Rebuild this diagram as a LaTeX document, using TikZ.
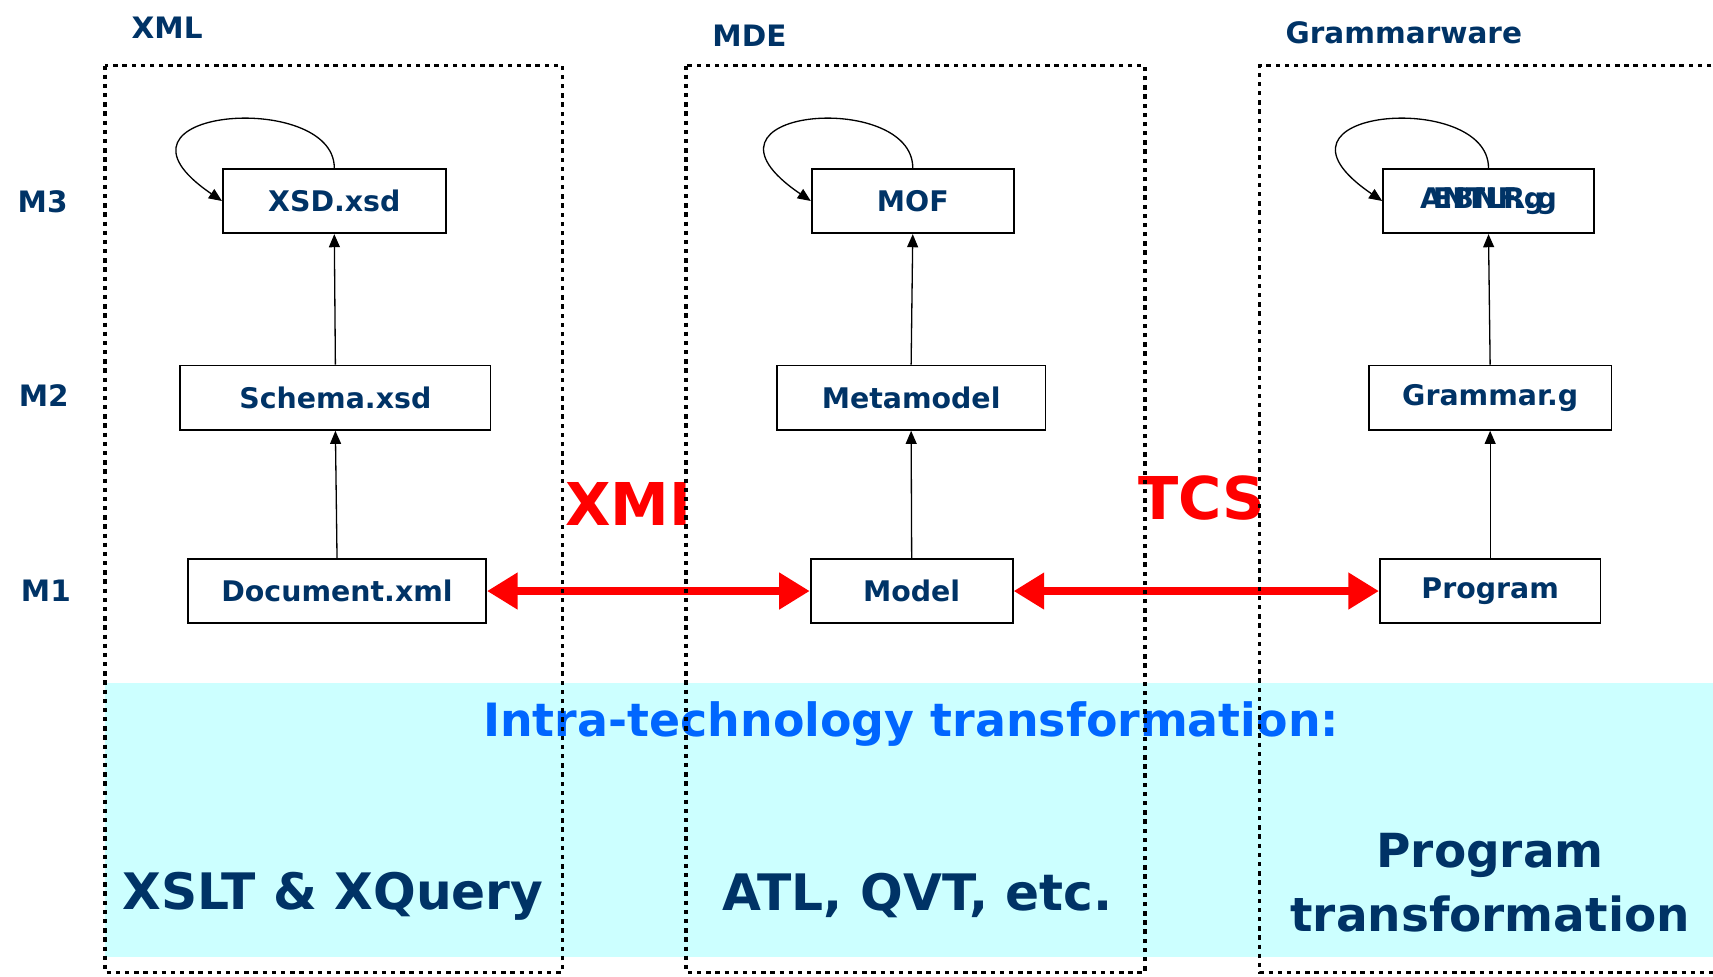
\documentclass[tikz,border=0pt]{standalone}
\usepackage{fontspec}
\setmainfont{DejaVu Sans}
\usetikzlibrary{arrows.meta}
\definecolor{navy}{HTML}{003366}
\definecolor{bandcyan}{HTML}{CCFFFF}
\definecolor{intrablue}{HTML}{0066FF}
\definecolor{linkred}{HTML}{FF0000}

\tikzset{
  techframe/.style={line width=1.6pt, dash pattern=on 2pt off 2.2pt},
  level/.style={draw, line width=0.8pt, minimum height=29.5pt, inner sep=0pt,
    font=\fontsize{13}{15}\selectfont\bfseries, text=navy},
  tag/.style={font=\fontsize{13.5}{15}\selectfont\bfseries, text=navy},
  conform/.style={-{Triangle[length=6pt,width=5pt]}, line width=0.6pt},
  bridge/.style={{Triangle[length=14pt,width=16pt]}-{Triangle[length=14pt,width=16pt]},
    draw=linkred, line width=4pt},
  bridgelabel/.style={font=\fontsize{27}{30}\selectfont\bfseries, text=linkred},
  bigtext/.style={font=\fontsize{23}{29}\selectfont\bfseries, text=navy, align=center}
}

\begin{document}
\begin{tikzpicture}[x=0.5pt,y=-0.5pt]
\useasboundingbox (0,0) rectangle (1568,894);

% shared band for the intra-technology tools
\fill[bandcyan] (96,625) rectangle (1568,876);

\node[tag] (xmltag) at (153,25) {XML};
\node[tag] (mdetag) at (686,33) {MDE};
\node[tag] (gwtag) at (1285,30) {Grammarware};

% metalevels
\node[tag] (m3) at (39,185) {M3};
\node[tag] (m2) at (40,362) {M2};
\node[tag] (m1) at (42,541) {M1};

% XML column
\node[level, minimum width=102pt] (xsd) at (306,184) {XSD.xsd};
\node[level, minimum width=142pt] (schema) at (307,364) {Schema.xsd};
\node[level, minimum width=136.5pt] (doc) at (308.5,541) {Document.xml};

% MDE column
\node[level, minimum width=92.5pt] (mof) at (835.5,184) {MOF};
\node[level, minimum width=123pt] (meta) at (834,364) {Metamodel};
\node[level, minimum width=92.5pt] (model) at (834.5,541) {Model};

% Grammarware column: two grammar notations set on the same box
\node[level, minimum width=96.5pt] (ebnf) at (1362.5,184) {ANTLR.g};
\node[level, draw=none, minimum width=96.5pt] (antlr) at (1362.5,184) {EBNF.g};
\node[level, minimum width=111pt] (grammar) at (1364,364) {Grammar.g};
\node[level, minimum width=101pt] (program) at (1364,541) {Program};

% conformsTo relations
\draw[conform] (doc.north) -- (schema.south);
\draw[conform] (schema.north) -- (xsd.south);
\draw[conform] (model.north) -- (meta.south);
\draw[conform] (meta.north) -- (mof.south);
\draw[conform] (program.north) -- (grammar.south);
\draw[conform] (grammar.north) -- (ebnf.south);

% self-conformance loops
\draw[conform] (xsd.north) .. controls +(0,-72) and +(-125,-85) .. (xsd.west);
\draw[conform] (mof.north) .. controls +(0,-72) and +(-125,-85) .. (mof.west);
\draw[conform] (ebnf.north) .. controls +(0,-72) and +(-125,-85) .. (ebnf.west);

% bridges between spaces
\draw[bridge] (doc.east) -- (model.west);
\draw[bridge] (model.east) -- (program.west);
\node[bridgelabel] (xmi) at (575,461) {XMI};
\node[bridgelabel] (tcs) at (1100,456) {TCS};

% intra-technology transformations
\node[font=\fontsize{21}{26}\selectfont\bfseries, text=intrablue] (intra) at (834,663)
  {Intra-technology transformation:};
\node[bigtext] (xslt) at (305,820) {XSLT \& XQuery};
\node[bigtext] (atl) at (840,820) {ATL, QVT, etc.};
\node[bigtext, font=\fontsize{21.5}{29}\selectfont\bfseries] (progtr) at (1364,808)
  {Program\\transformation};

% technical spaces, dotted frames on top of everything
\draw[techframe] (96,60) rectangle (515,890);
\draw[techframe] (628,60) rectangle (1048,890);
\draw[techframe] (1600,60) -- (1153,60) -- (1153,890) -- (1600,890);
\end{tikzpicture}
\end{document}
